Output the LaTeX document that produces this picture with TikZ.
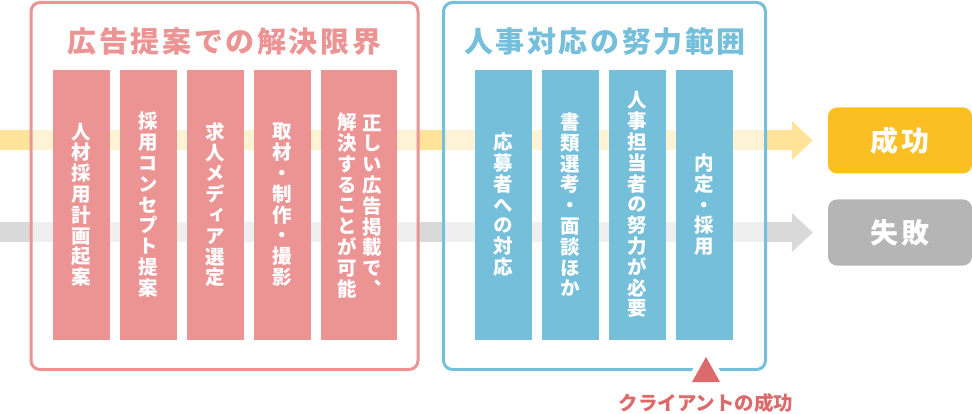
\documentclass[tikz,border=0pt]{standalone}
\usepackage{fontspec}
\usetikzlibrary{arrows.meta}
\newfontfamily\jp{Noto Sans CJK JP}
\newfontfamily\jpv{Noto Sans CJK JP}[RawFeature=+vert]
\definecolor{pinkc}{HTML}{EC9494}
\definecolor{bluec}{HTML}{75BFDB}
\definecolor{ybar}{HTML}{FFE399}
\definecolor{gbar}{HTML}{D9D9D9}
\definecolor{okc}{HTML}{FBBF24}
\definecolor{ngc}{HTML}{B5B5B5}
\definecolor{redc}{HTML}{DC6A6A}
\begin{document}
\begin{tikzpicture}[x=1pt,y=-1pt,
  panel/.style={draw, line width=3pt, rounded corners=9pt, fill=white, fill opacity=0.6,
    minimum height=367pt, inner sep=0pt},
  ptitle/.style={font=\jp\bfseries\fontsize{29}{31}\addfontfeature{LetterSpace=9}\selectfont, inner sep=0pt},
  colbox/.style={minimum width=57pt, minimum height=269.5pt, inner sep=0pt, text=white,
    align=center, font=\jpv\bfseries\fontsize{19.5}{20.8}\selectfont},
  vtext/.style={inner sep=0pt, text=white, align=center,
    font=\jpv\bfseries\fontsize{19.5}{20.8}\selectfont},
  outbox/.style={rounded corners=9pt, minimum width=144pt, minimum height=66pt, inner sep=0pt,
    text=white, font=\jp\bfseries\fontsize{28}{30}\addfontfeature{LetterSpace=14}\selectfont},
  bar/.style={line width=20pt, -{Triangle[length=21pt,width=38pt]}, shorten >=15pt}
]
\useasboundingbox (0,0) rectangle (972,414);
% outcomes
\node[outbox, fill=okc] (ok) at (900,140.5) {成功};
\node[outbox, fill=ngc] (ng) at (900,232.5) {失敗};
% bars
\coordinate (ys) at (0,140.5);
\coordinate (gs) at (0,232.5);
\draw[bar, draw=ybar, fill=ybar] (ys) -- (ok.west);
\draw[bar, draw=gbar, fill=gbar] (gs) -- (ng.west);
% panels
\node[panel, draw=pinkc, minimum width=387pt] (lp) at (224.5,186) {};
\node[panel, draw=bluec, minimum width=322pt] (rp) at (604.5,186) {};
\node[ptitle, text=pinkc] (lt) at (224.5,41.5) {広告提案での解決限界};
\node[ptitle, text=bluec] (rt) at (605,41.5) {人事対応の努力範囲};
% left columns
\node[colbox, fill=pinkc] (p1) at (81.5,204.75) {人\\材\\採\\用\\計\\画\\起\\案};
\node[colbox, fill=pinkc] (p2) at (148.5,204.75) {採\\用\\コ\\ン\\セ\\プ\\ト\\提\\案};
\node[colbox, fill=pinkc] (p3) at (215.5,204.75) {求\\人\\メ\\デ\\ィ\\ア\\選\\定};
\node[colbox, fill=pinkc] (p4) at (282.5,204.75) {取\\材\\・\\制\\作\\・\\撮\\影};
\node[colbox, fill=pinkc, minimum width=76pt] (p5) at (359,204.75) {};
\node[vtext] (p5a) at (372,205.5) {正\\し\\い\\広\\告\\掲\\載\\で\\、};
\node[vtext] (p5b) at (347,205.5) {解\\決\\す\\る\\こ\\と\\が\\可\\能};
% right columns
\node[colbox, fill=bluec] (b1) at (503.5,204.75) {応\\募\\者\\へ\\の\\対\\応};
\node[colbox, fill=bluec] (b2) at (570.5,204.75) {書\\類\\選\\考\\・\\面\\談\\ほ\\か};
\node[colbox, fill=bluec] (b3) at (637.5,204.75) {人\\事\\担\\当\\者\\の\\努\\力\\が\\必\\要};
\node[colbox, fill=bluec] (b4) at (704.5,204.75) {内\\定\\・\\採\\用};
% triangle marker
\path[draw=white, fill=white, line width=11pt, line join=round] (706,357) -- (692,382) -- (720,382) -- cycle;
\fill[redc] (706,357) -- (692,382) -- (720,382) -- cycle;
\node[inner sep=0pt, text=redc, font=\jp\bfseries\fontsize{19.5}{21}\selectfont] (cl) at (706,403) {クライアントの成功};
\end{tikzpicture}
\end{document}
